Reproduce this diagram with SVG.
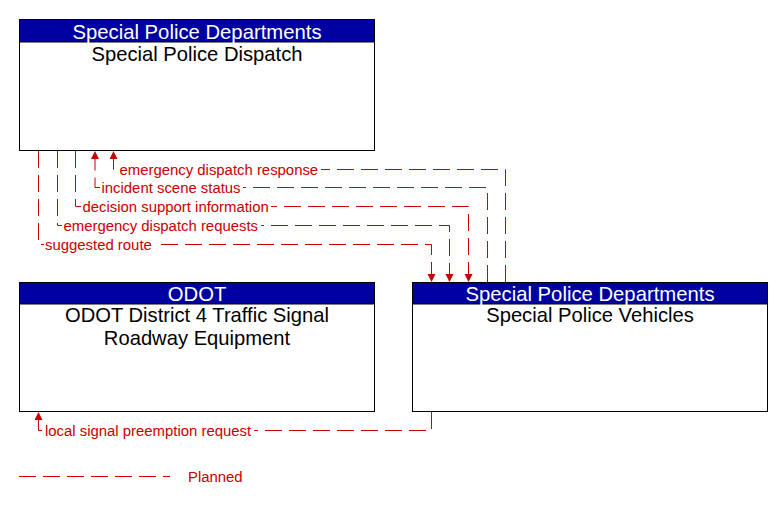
<svg xmlns="http://www.w3.org/2000/svg" width="783" height="505" viewBox="0 0 783 505">
<style>
.box{fill:#fff;stroke:#000;stroke-width:1}
.hdr{fill:#0000a0;stroke:#000;stroke-width:1}
.ht{font-family:"Liberation Sans",Arial,sans-serif;font-size:20.3px;fill:#fff;text-anchor:middle}
.tt{font-family:"Liberation Sans",Arial,sans-serif;font-size:20.2px;fill:#000;text-anchor:middle}
.flow{fill:none;stroke:#c80000;stroke-width:1;stroke-dasharray:17 7}
.lbl{font-family:"Liberation Sans",Arial,sans-serif;font-size:14.9px;fill:#c80000}
.bg{fill:#fff}
</style>
<defs>
<marker id="arr" markerUnits="userSpaceOnUse" markerWidth="9" markerHeight="9" refX="8" refY="4" orient="auto">
<path d="M0,0 L8,4 L0,8 z" fill="#c80000"/>
</marker>
</defs>
<g id="node-dispatch">
<rect class="box" x="19.5" y="19.5" width="355" height="131"/>
<rect class="hdr" x="19.5" y="19.5" width="355" height="22.5"/>
<text class="ht" x="197" y="38.5">Special Police Departments</text>
<text class="tt" x="197" y="60.5">Special Police Dispatch</text>
</g>
<g id="node-odot">
<rect class="box" x="19.5" y="282.5" width="355" height="129"/>
<rect class="hdr" x="19.5" y="282.5" width="355" height="21.5"/>
<text class="ht" x="197" y="300.5">ODOT</text>
<text class="tt" x="197" y="322">ODOT District 4 Traffic Signal</text>
<text class="tt" x="197" y="344.5">Roadway Equipment</text>
</g>
<g id="node-vehicles">
<rect class="box" x="412.5" y="282.5" width="355" height="129"/>
<rect class="hdr" x="412.5" y="282.5" width="355" height="21.5"/>
<text class="ht" x="590" y="300.5">Special Police Departments</text>
<text class="tt" x="590" y="321.5">Special Police Vehicles</text>
</g>
<g id="connectors">
<path class="flow" d="M505.5,282 V169.5 H113.5 V151" marker-end="url(#arr)"/>
<path class="flow" d="M487.5,282 V187.5 H95 V151" marker-end="url(#arr)"/>
<path class="flow" d="M75.5,151 V206.5 H468.5 V282" marker-end="url(#arr)"/>
<path class="flow" d="M57.5,151 V225.5 H449.5 V282" marker-end="url(#arr)"/>
<path class="flow" d="M38.5,151 V244.5 H431.5 V282" marker-end="url(#arr)"/>
<path class="flow" d="M431.5,412 V430.5 H38.5 V412" marker-end="url(#arr)"/>
<rect class="bg" x="118" y="163" width="203" height="13"/>
<text class="lbl" x="119.5" y="174.5">emergency dispatch response</text>
<rect class="bg" x="100" y="181" width="143" height="13"/>
<text class="lbl" x="101.5" y="192.5">incident scene status</text>
<rect class="bg" x="81" y="200" width="190" height="13"/>
<text class="lbl" x="82.5" y="211.5">decision support information</text>
<rect class="bg" x="62" y="219" width="199" height="13"/>
<text class="lbl" x="63.5" y="230.5">emergency dispatch requests</text>
<rect class="bg" x="44" y="238" width="110" height="13"/>
<text class="lbl" x="45" y="249.5">suggested route</text>
<rect class="bg" x="44" y="424" width="210" height="13"/>
<text class="lbl" x="45" y="435.5">local signal preemption request</text>
</g>
<g id="legend">
<path class="flow" d="M19,476.5 H170"/>
<text class="lbl" x="188" y="481.5">Planned</text>
</g>
</svg>
